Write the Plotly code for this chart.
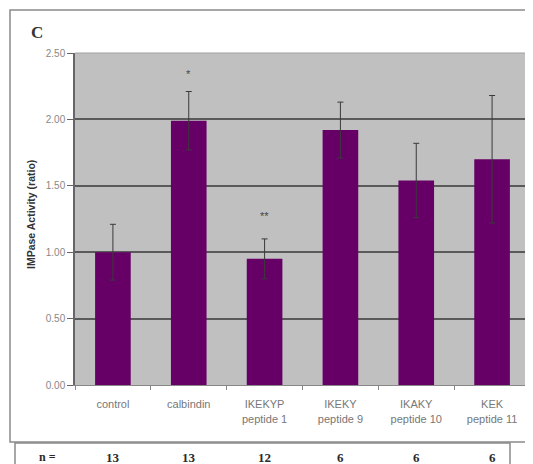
import plotly.graph_objects as go

categories = ["control", "calbindin", "IKEKYP<br>peptide 1", "IKEKY<br>peptide 9", "IKAKY<br>peptide 10", "KEK<br>peptide 11"]
values = [1.00, 1.99, 0.95, 1.92, 1.54, 1.70]
errors = [0.21, 0.22, 0.15, 0.21, 0.28, 0.48]
significance = ["", "*", "", "", "", ""]
significance2 = ["", "", "**", "", "", ""]
n_values = [13, 13, 12, 6, 6, 6]
y_ticks = [0.0, 0.5, 1.0, 1.5, 2.0, 2.5]

OFF = 8  # page body margin
W, H = 533 - OFF, 464 - OFF
L, R, T, B = 75, 530, 53, 385  # plot area in window pixels


def px(x):
    return (x - L) / (R - L)


def py(y):
    return (B - y) / (B - T)


fig = go.Figure()
fig.add_trace(go.Bar(
    x=categories, y=values,
    marker=dict(color="#660066", line=dict(width=0)),
    error_y=dict(type="data", array=errors, visible=True, color="#3a3a3a", thickness=1, width=3),
    width=0.47,
))

annotations = []
for c, v, e, s1, s2 in zip(categories, values, errors, significance, significance2):
    if s1:
        annotations.append(dict(x=c, y=v + e + 0.13, text=s1, showarrow=False, xref="x", yref="y",
                                font=dict(family="Arial", size=11, color="#444"), yanchor="middle"))
    if s2:
        annotations.append(dict(x=c, y=v + e + 0.17, text=s2, showarrow=False, xref="x", yref="y",
                                font=dict(family="Arial", size=11, color="#444"), yanchor="middle"))

for c, n in zip(categories, n_values):
    annotations.append(dict(x=c, y=py(457), text=f"<b>{n}</b>", showarrow=False, xref="x", yref="paper",
                            font=dict(family="Liberation Serif", size=13, color="#2a2a2a"), yanchor="middle"))

annotations.append(dict(x=px(37), y=py(457), text="<b>n =</b>", showarrow=False, xref="paper", yref="paper",
                        font=dict(family="Liberation Serif", size=12, color="#2a2a2a"), yanchor="middle"))
annotations.append(dict(x=px(29), y=py(33), text="<b>C</b>", showarrow=False, xref="paper", yref="paper",
                        font=dict(family="Liberation Serif", size=17, color="#333"), yanchor="middle"))
annotations.append(dict(x=px(31), y=py(215), text="<b>IMPase Activity (ratio)</b>", showarrow=False,
                        xref="paper", yref="paper", textangle=-90,
                        font=dict(family="Arial", size=10.5, color="#333"), yanchor="middle", xanchor="center"))

shapes = [
    dict(type="rect", xref="paper", yref="paper", x0=px(10), x1=px(545), y0=py(442), y1=py(10),
         line=dict(color="#8a8a8a", width=1.5), layer="below"),
    dict(type="rect", xref="paper", yref="paper", x0=px(15), x1=px(510), y0=py(480), y1=py(443),
         line=dict(color="#8a8a8a", width=1.5), layer="below"),
    dict(type="line", xref="paper", yref="paper", x0=0, x1=1, y0=1, y1=1,
         line=dict(color="#a0a0a0", width=1)),
    dict(type="line", xref="paper", yref="paper", x0=1, x1=1, y0=0, y1=1,
         line=dict(color="#b0b0b0", width=1)),
]

fig.update_layout(
    width=W, height=H,
    margin=dict(l=L - OFF, r=533 - R, t=T - OFF, b=464 - B),
    paper_bgcolor="white",
    plot_bgcolor="#c0c0c0",
    showlegend=False,
    bargap=0.53,
    annotations=annotations,
    shapes=shapes,
    xaxis=dict(
        showgrid=False, showline=True, linecolor="#888", linewidth=1,
        ticks="outside", tickson="boundaries", ticklen=4, tickcolor="#888",
        ticklabelstandoff=9,
        tickfont=dict(family="Arial", size=11, color="#777"),
    ),
    yaxis=dict(
        range=[0, 2.5], tickvals=y_ticks, tickformat=".2f",
        showgrid=True, gridcolor="#5a5a5a", gridwidth=1.5,
        showline=True, linecolor="#666", linewidth=1.5,
        ticks="outside", ticklen=6, tickcolor="#666",
        tickfont=dict(family="Arial", size=10, color="#888"),
        zeroline=False,
    ),
)

fig.write_html("out.html")
